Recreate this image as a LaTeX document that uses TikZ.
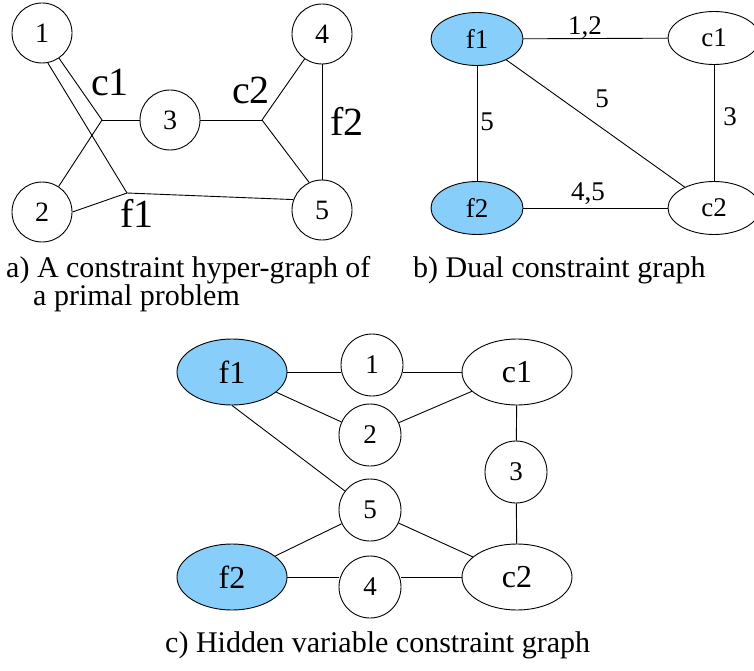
\documentclass[tikz,border=0pt]{standalone}
\usepackage{fontspec}
\setmainfont{Liberation Serif}
\newfontfamily\tms{Liberation Serif}
\usetikzlibrary{shapes.geometric,calc}
\definecolor{fillblue}{RGB}{135,206,250}
\tikzset{
  edge/.style={draw=black, line width=0.9pt},
  vcirc/.style={circle, draw=black, line width=0.9pt, minimum size=60pt, inner sep=0pt, font=\tms\fontsize{28}{30}\selectfont},
  ccirc/.style={circle, draw=black, line width=0.9pt, minimum size=62pt, inner sep=0pt, font=\tms\fontsize{27}{30}\selectfont},
  bell/.style={ellipse, draw=black, line width=0.9pt, minimum width=92pt, minimum height=53pt, inner sep=0pt, font=\tms\fontsize{27}{30}\selectfont},
  cell/.style={ellipse, draw=black, line width=0.9pt, minimum width=110pt, minimum height=66pt, inner sep=0pt, font=\tms\fontsize{32}{34}\selectfont},
  hot/.style={fill=fillblue},
  biglab/.style={inner sep=0pt, font=\tms\fontsize{40}{42}\selectfont},
  elab/.style={inner sep=0pt, font=\tms\fontsize{27}{30}\selectfont},
  caption/.style={inner sep=0pt, anchor=base west, font=\tms\fontsize{30}{32}\selectfont}
}
\begin{document}
\begin{tikzpicture}[x=1pt,y=-1pt]
\clip (0,0) rectangle (754,671);
\fill[white] (0,0) rectangle (754,671);

% ---------- panel a ----------
\node[vcirc] (a1) at (42,33) {1};
\node[vcirc] (a4) at (322,34) {4};
\node[vcirc] (a3) at (170,120) {3};
\node[vcirc] (a2) at (42,212) {2};
\node[vcirc] (a5) at (322,210) {5};
\coordinate (jc1) at (102,120);
\coordinate (jf1) at (127,193);
\coordinate (jc2) at (262,120);
\draw[edge] (a1.-56) -- (jc1);
\draw[edge] (jc1) -- (a3);
\draw[edge] (jc1) -- (a2);
\draw[edge] (a1.-79) -- (jf1);
\draw[edge] (jf1) -- (a2.east);
\draw[edge] (jf1) -- (a5.160);
\draw[edge] (a3) -- (jc2);
\draw[edge] (jc2) -- (a4);
\draw[edge] (jc2) -- (a5.115);
\draw[edge] (a4) -- (a5);
\node[biglab] (lc1) at (110,82) {c1};
\node[biglab] (lf1) at (137,213) {f1};
\node[biglab] (lc2) at (251,90) {c2};
\node[biglab] (lf2) at (347,121) {f2};
\node[caption] (capa1) at (6,277) {a) A constraint hyper-graph of};
\node[caption] (capa2) at (33,305) {a primal problem};

% ---------- panel b ----------
\node[bell,hot] (bf1) at (477,39) {f1};
\node[bell] (bc1) at (714,38) {c1};
\node[bell,hot] (bf2) at (477,208) {f2};
\node[bell] (bc2) at (714,208) {c2};
\draw[edge] (bf1) -- (bc1);
\draw[edge] (bf1) -- (bf2);
\draw[edge] (bf1) -- (bc2);
\draw[edge] (bc1) -- (bc2);
\draw[edge] (bf2) -- (bc2);
\node[elab, anchor=base] (l12) at (585,35) {1,2};
\node[elab] (l5v) at (487,122) {5};
\node[elab] (l5d) at (602,99) {5};
\node[elab] (l3) at (730,117) {3};
\node[elab, anchor=base] (l45) at (588,200) {4,5};
\node[caption] (capb) at (413,277) {b) Dual constraint graph};

% ---------- panel c ----------
\node[cell,hot] (cf1) at (232,372) {f1};
\node[ccirc] (cn1) at (372,365) {1};
\node[cell] (cc1) at (517,372) {c1};
\node[ccirc] (cn2) at (370,435) {2};
\node[ccirc] (cn3) at (516,472) {3};
\node[ccirc] (cn5) at (370,510) {5};
\node[cell,hot] (cf2) at (232,577) {f2};
\node[ccirc] (cn4) at (370,587) {4};
\node[cell] (cc2) at (517,577) {c2};
\draw[edge] (cf1) -- (cn1.west |- cf1);
\draw[edge] (cn1.east |- cc1) -- (cc1);
\draw[edge] (cf1) -- (cn2);
\draw[edge] (cn2) -- (cc1);
\draw[edge] (cf1.south) -- (cn5);
\draw[edge] (cf2) -- (cn5);
\draw[edge] (cn5) -- (cc2);
\draw[edge] (cf2) -- (cn4.west |- cf2);
\draw[edge] (cn4.east |- cc2) -- (cc2);
\draw[edge] (cc1) -- (cn3);
\draw[edge] (cn3) -- (cc2);
\node[caption] (capc) at (165,652) {c) Hidden variable constraint graph};
\end{tikzpicture}
\end{document}
